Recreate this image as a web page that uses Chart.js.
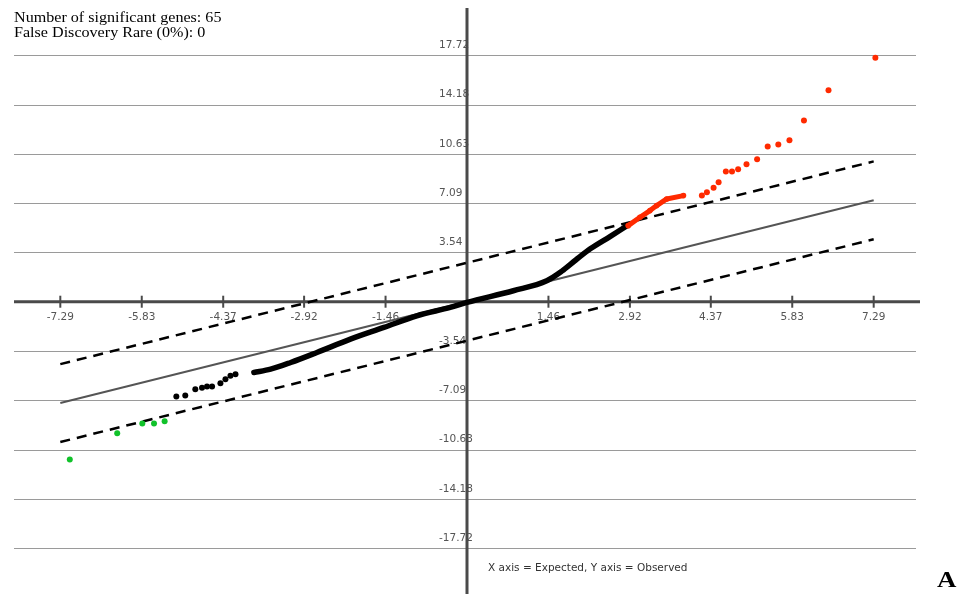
<!DOCTYPE html>
<html>
<head>
<meta charset="utf-8">
<script src="https://cdn.jsdelivr.net/npm/chart.js@4.4.0/dist/chart.umd.min.js"></script>
<style>
  body { margin: 0; background: #fff; }
  #wrap { position: relative; width: 971px; height: 594px; overflow: hidden; }
  .note { position: absolute; left: 14px; top: 10px; font: 14px "Liberation Serif", "Times New Roman", serif; line-height: 15px; color: #000; transform: scaleX(1.15); transform-origin: left top; white-space: nowrap; }
  .caption { position: absolute; left: 488px; top: 561px; font: 10.5px "DejaVu Sans", sans-serif; color: #333; white-space: nowrap; }
  .letter { position: absolute; left: 937px; top: 567px; font: bold 24px "Liberation Serif", serif; line-height: 24px; color: #000; transform: scaleX(1.12); transform-origin: left top; }
</style>
</head>
<body>
<div id="wrap">
  <canvas id="plot" width="971" height="594"></canvas>
  <div class="note">Number of significant genes: 65<br>False Discovery Rare (0%): 0</div>
  <div class="caption">X axis = Expected, Y axis = Observed</div>
  <div class="letter">A</div>
</div>
<script>
// tick values
const xTicks = [-7.29, -5.83, -4.37, -2.92, -1.46, 0, 1.46, 2.92, 4.37, 5.83, 7.29];
const xTickLabels = ['-7.29', '-5.83', '-4.37', '-2.92', '-1.46', '', '1.46', '2.92', '4.37', '5.83', '7.29'];
const yTicks = [17.72, 14.18, 10.63, 7.09, 3.54, -3.54, -7.09, -10.63, -14.18, -17.72];
const yTickLabels = ['17.72', '14.18', '10.63', '7.09', '3.54', '-3.54', '-7.09', '-10.63', '-14.18', '-17.72'];

// reference lines (expected = observed, and +/- delta band)
const refX = [-7.29, 7.29];
const refMid = [-7.29, 7.29];
const refUpper = [-4.49, 10.09];
const refLower = [-10.09, 4.49];

// non-significant genes: dense run + sparse left tail
const curveX = [-3.82, -3.52, -3.16, -2.69, -2.09, -1.49, -0.90, -0.30, 0, 0.83, 1.43, 1.70, 1.95, 2.21, 2.57, 2.87];
const curveY = [-5.09, -4.85, -4.37, -3.65, -2.69, -1.85, -1.01, -0.41, -0.05, 0.79, 1.51, 2.20, 3.00, 3.80, 4.70, 5.47];
const tailX = [-5.21, -5.05, -4.87, -4.75, -4.66, -4.57, -4.42, -4.33, -4.24, -4.15];
const tailY = [-6.82, -6.75, -6.30, -6.18, -6.10, -6.10, -5.86, -5.57, -5.33, -5.21];

// significant up (red)
const upRunX = [2.89, 3.10, 3.28, 3.40, 3.58, 3.88];
const upRunY = [5.47, 6.07, 6.55, 6.91, 7.39, 7.63];
const upX = [4.21, 4.30, 4.42, 4.51, 4.64, 4.75, 4.86, 5.01, 5.20, 5.39, 5.58, 5.78, 6.04, 6.48, 7.32];
const upY = [7.63, 7.87, 8.19, 8.59, 9.36, 9.36, 9.52, 9.88, 10.24, 11.16, 11.30, 11.61, 13.03, 15.21, 17.54];

// significant down (green)
const downX = [-7.12, -6.27, -5.82, -5.61, -5.42];
const downY = [-11.35, -9.45, -8.76, -8.76, -8.59];

const pts = (xs, ys) => xs.map((v, i) => ({ x: v, y: ys[i] }));

const axesPlugin = {
  id: 'centerAxes',
  beforeDatasetsDraw(chart) {
    const { ctx, chartArea: a, scales: { x, y } } = chart;
    const x0 = x.getPixelForValue(0);
    const y0 = y.getPixelForValue(0);
    ctx.save();
    // grid
    ctx.strokeStyle = '#9a9a9a';
    ctx.lineWidth = 1;
    yTicks.forEach(v => {
      const py = Math.round(y.getPixelForValue(v)) + 0.5;
      ctx.beginPath();
      ctx.moveTo(a.left, py);
      ctx.lineTo(a.right - 4, py);
      ctx.stroke();
    });
    // labels
    ctx.fillStyle = '#555';
    ctx.font = '10.5px "DejaVu Sans", sans-serif';
    ctx.textAlign = 'left';
    ctx.textBaseline = 'middle';
    yTicks.forEach((v, i) => {
      ctx.fillText(yTickLabels[i], x0 - 28, y.getPixelForValue(v) - 10);
    });
    ctx.textAlign = 'center';
    xTicks.forEach((v, i) => {
      ctx.fillText(xTickLabels[i], x.getPixelForValue(v), y0 + 16);
    });
    // axes
    ctx.strokeStyle = '#4a4a4a';
    ctx.lineWidth = 3;
    ctx.beginPath();
    ctx.moveTo(a.left, y0);
    ctx.lineTo(a.right, y0);
    ctx.moveTo(x0, a.top);
    ctx.lineTo(x0, 594);
    ctx.stroke();
    ctx.lineWidth = 2;
    xTicks.forEach(v => {
      if (v === 0) return;
      const px = x.getPixelForValue(v);
      ctx.beginPath();
      ctx.moveTo(px, y0 - 6);
      ctx.lineTo(px, y0 + 6);
      ctx.stroke();
    });
    ctx.restore();
  }
};

new Chart('plot', {
  type: 'scatter',
  data: {
    datasets: [
      { data: pts(refX, refMid), showLine: true, borderColor: '#555', borderWidth: 2, pointRadius: 0, order: 6 },
      { data: pts(refX, refUpper), showLine: true, borderColor: '#000', borderWidth: 2.5, borderDash: [10, 7], pointRadius: 0, order: 5 },
      { data: pts(refX, refLower), showLine: true, borderColor: '#000', borderWidth: 2.5, borderDash: [10, 7], pointRadius: 0, order: 5 },
      { data: pts(curveX, curveY), showLine: true, borderColor: '#000', borderWidth: 5.5, borderCapStyle: 'round', borderJoinStyle: 'round', cubicInterpolationMode: 'monotone', pointRadius: 0, order: 3 },
      { data: pts(tailX, tailY), backgroundColor: '#000', borderWidth: 0, pointRadius: 3, order: 2 },
      { data: pts(upRunX, upRunY), showLine: true, borderColor: '#ff2a00', backgroundColor: '#ff2a00', borderWidth: 5, borderCapStyle: 'round', borderJoinStyle: 'round', pointRadius: 2.8, pointBorderWidth: 0, order: 1 },
      { data: pts(upX, upY), backgroundColor: '#ff2a00', borderWidth: 0, pointRadius: 3, order: 1 },
      { data: pts(downX, downY), backgroundColor: '#11c22a', borderWidth: 0, pointRadius: 3, order: 1 }
    ]
  },
  options: {
    responsive: false,
    animation: false,
    layout: { padding: { left: 14, right: 51, top: 8, bottom: 0 } },
    plugins: { legend: { display: false }, tooltip: { enabled: false } },
    scales: {
      x: { type: 'linear', min: -8.12, max: 8.12, display: false },
      y: { type: 'linear', min: -20.73, max: 21.12, display: false }
    }
  },
  plugins: [axesPlugin]
});
</script>
</body>
</html>
